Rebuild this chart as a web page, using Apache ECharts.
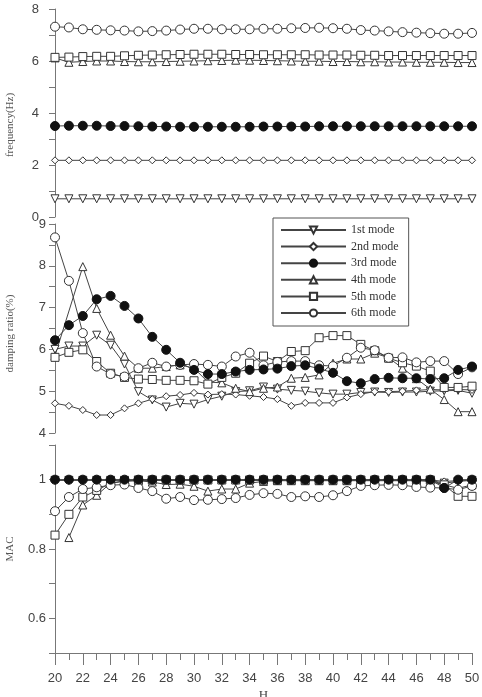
<!DOCTYPE html>
<html>
<head>
<meta charset="utf-8">
<script src="https://cdn.jsdelivr.net/npm/echarts@6/dist/echarts.min.js"></script>
<style>
  html, body { margin: 0; padding: 0; background: #fff; }
  #chart { width: 482px; height: 697px; }
</style>
</head>
<body>
<div id="chart"></div>
<script>
// x values (H)
var xs = [20, 21, 22, 23, 24, 25, 26, 27, 28, 29, 30, 31, 32, 33, 34, 35, 36, 37, 38, 39, 40, 41, 42, 43, 44, 45, 46, 47, 48, 49, 50];
var modeNames = ["1st mode", "2nd mode", "3rd mode", "4th mode", "5th mode", "6th mode"];

// frequency (Hz)
var freq1 = [0.7, 0.7, 0.7, 0.7, 0.7, 0.7, 0.7, 0.7, 0.7, 0.7, 0.7, 0.7, 0.7, 0.7, 0.7, 0.7, 0.7, 0.7, 0.7, 0.7, 0.7, 0.7, 0.7, 0.7, 0.7, 0.7, 0.7, 0.7, 0.7, 0.7, 0.7];
var freq2 = [2.18, 2.18, 2.18, 2.18, 2.18, 2.18, 2.18, 2.18, 2.18, 2.18, 2.18, 2.18, 2.18, 2.18, 2.18, 2.18, 2.18, 2.18, 2.18, 2.18, 2.18, 2.18, 2.18, 2.18, 2.18, 2.18, 2.18, 2.18, 2.18, 2.18, 2.18];
var freq3 = [3.5, 3.51, 3.51, 3.51, 3.5, 3.5, 3.49, 3.48, 3.48, 3.47, 3.47, 3.47, 3.47, 3.47, 3.47, 3.48, 3.48, 3.48, 3.48, 3.49, 3.49, 3.49, 3.49, 3.49, 3.49, 3.49, 3.49, 3.49, 3.49, 3.49, 3.49];
var freq4 = [6.12, 5.95, 5.98, 6.0, 6.0, 5.98, 5.97, 5.97, 5.98, 5.99, 6.0, 6.01, 6.02, 6.03, 6.03, 6.02, 6.01, 6.0, 5.99, 5.99, 5.98, 5.98, 5.97, 5.97, 5.96, 5.96, 5.95, 5.95, 5.95, 5.94, 5.94];
var freq5 = [6.14, 6.15, 6.17, 6.18, 6.18, 6.2, 6.22, 6.23, 6.24, 6.25, 6.26, 6.26, 6.26, 6.25, 6.25, 6.24, 6.24, 6.24, 6.24, 6.23, 6.23, 6.23, 6.22, 6.22, 6.21, 6.21, 6.21, 6.21, 6.21, 6.21, 6.21];
var freq6 = [7.32, 7.29, 7.22, 7.2, 7.18, 7.17, 7.14, 7.15, 7.17, 7.21, 7.24, 7.24, 7.22, 7.22, 7.22, 7.24, 7.24, 7.26, 7.27, 7.28, 7.26, 7.24, 7.19, 7.17, 7.14, 7.11, 7.09, 7.07, 7.05, 7.05, 7.08];

// damping ratio (%)
var damp1 = [6.0, 6.08, 6.08, 6.34, 6.1, 5.65, 4.99, 4.79, 4.62, 4.71, 4.69, 4.8, 4.88, 4.99, 5.01, 5.1, 5.05, 5.02, 5.0, 4.96, 4.93, 4.93, 4.97, 4.98, 4.97, 4.98, 4.98, 5.0, 5.01, 5.02, 4.95];
var damp2 = [4.71, 4.65, 4.55, 4.43, 4.43, 4.59, 4.71, 4.81, 4.88, 4.91, 4.96, 4.92, 4.93, 4.92, 4.89, 4.86, 4.81, 4.65, 4.72, 4.72, 4.72, 4.85, 4.93, 4.99, 4.99, 5.0, 5.02, 5.04, 5.03, 5.04, 5.03];
var damp3 = [6.22, 6.58, 6.8, 7.2, 7.28, 7.04, 6.74, 6.3, 5.99, 5.68, 5.51, 5.41, 5.41, 5.47, 5.51, 5.52, 5.54, 5.6, 5.62, 5.54, 5.44, 5.24, 5.19, 5.29, 5.32, 5.31, 5.31, 5.29, 5.31, 5.51, 5.59];
var damp4 = [5.85, null, 7.98, 6.98, 6.34, 5.84, 5.55, 5.55, 5.59, 5.63, 5.55, 5.22, 5.2, 5.07, 4.99, 5.07, 5.1, 5.31, 5.33, 5.39, 5.67, 5.77, 5.77, 5.91, 5.8, 5.55, 5.3, 5.05, 4.8, 4.51, 4.51];
var damp5 = [5.81, 5.93, 5.99, 5.71, 5.43, 5.33, 5.29, 5.28, 5.26, 5.26, 5.25, 5.17, 5.33, 5.43, 5.67, 5.84, 5.71, 5.95, 5.97, 6.28, 6.33, 6.33, 6.12, 5.97, 5.79, 5.68, 5.6, 5.48, 5.09, 5.09, 5.12];
var damp6 = [8.68, 7.64, 6.39, 5.59, 5.41, 5.35, 5.55, 5.68, 5.59, 5.63, 5.65, 5.63, 5.59, 5.83, 5.92, 5.62, 5.7, 5.72, 5.72, 5.62, 5.6, 5.8, 6.04, 5.98, 5.8, 5.81, 5.69, 5.72, 5.72, 5.41, 5.57];

// MAC
var mac1 = [0.998, 0.998, 0.998, 0.998, 0.998, 0.998, 0.998, 0.998, 0.998, 0.998, 0.998, 0.998, 0.998, 0.998, 0.998, 0.998, 0.998, 0.998, 0.998, 0.998, 0.998, 0.998, 0.998, 0.998, 0.998, 0.998, 0.998, 0.998, 0.99, 0.995, 0.998];
var mac2 = [0.999, 0.999, 0.999, 0.999, 0.999, 0.999, 0.999, 0.999, 0.999, 0.999, 0.999, 0.999, 0.999, 0.999, 0.999, 0.999, 0.999, 0.999, 0.999, 0.999, 0.999, 0.999, 0.999, 0.999, 0.999, 0.999, 0.999, 0.999, 0.995, 0.997, 0.999];
var mac3 = [1.0, 1.0, 1.0, 1.0, 1.0, 1.0, 1.0, 1.0, 1.0, 1.0, 1.0, 1.0, 1.0, 1.0, 1.0, 1.0, 1.0, 1.0, 1.0, 1.0, 1.0, 1.0, 1.0, 1.0, 1.0, 1.0, 1.0, 1.0, 0.976, 1.0, 1.0];
var mac4 = [null, 0.833, 0.927, 0.955, 0.99, 0.995, 0.997, 0.993, 0.986, 0.987, 0.981, 0.967, 0.973, 0.973, 0.99, 0.995, 0.997, 0.997, 0.997, 0.997, 0.997, 0.997, 0.997, 0.997, 0.997, 0.997, 0.997, 0.995, 0.985, 0.975, 0.985];
var mac5 = [0.84, 0.9, 0.95, 0.969, 0.99, 0.997, 0.999, 0.999, 0.999, 0.999, 0.999, 0.999, 0.999, 0.999, 0.999, 0.999, 0.999, 0.999, 0.999, 0.999, 0.999, 0.999, 0.999, 0.999, 0.999, 0.999, 0.999, 0.999, 0.985, 0.952, 0.952];
var mac6 = [0.909, 0.95, 0.973, 0.978, 0.984, 0.986, 0.976, 0.967, 0.945, 0.95, 0.941, 0.942, 0.944, 0.947, 0.956, 0.961, 0.959, 0.95, 0.952, 0.95, 0.955, 0.967, 0.982, 0.984, 0.985, 0.984, 0.979, 0.977, 0.976, 0.971, 0.982];

var freqData = [freq1, freq2, freq3, freq4, freq5, freq6];
var dampData = [damp1, damp2, damp3, damp4, damp5, damp6];
var macData = [mac1, mac2, mac3, mac4, mac5, mac6];

// marker look of every mode
var markers = [
  { symbol: "triangle", size: 8, rotate: 180, fill: "#fff" },
  { symbol: "diamond", size: 7, rotate: 0, fill: "#fff" },
  { symbol: "circle", size: 9, rotate: 0, fill: "#111" },
  { symbol: "triangle", size: 8, rotate: 0, fill: "#fff" },
  { symbol: "rect", size: 8, rotate: 0, fill: "#fff" },
  { symbol: "circle", size: 9, rotate: 0, fill: "#fff" },
];

function pairs(vals) {
  return xs.map(function (x, i) {
    return [x, vals[i] == null ? "-" : vals[i]];
  });
}

var series = [];
[freqData, dampData, macData].forEach(function (panel, p) {
  panel.forEach(function (vals, k) {
    var m = markers[k];
    series.push({
      name: modeNames[k],
      type: "line",
      xAxisIndex: p,
      yAxisIndex: p,
      data: pairs(vals),
      connectNulls: true,
      symbol: m.symbol,
      symbolSize: m.size,
      symbolRotate: m.rotate,
      showAllSymbol: true,
      z: k == 2 ? 4 : 3,
      lineStyle: { color: "#444", width: 1 },
      itemStyle: {
        color: m.fill,
        borderColor: k == 2 ? "#111" : "#333",
        borderWidth: 1,
        opacity: 1,
      },
      emphasis: { disabled: true },
    });
  });
});

var axisColor = "#777";
var serif = "'Liberation Serif', 'DejaVu Serif', serif";
var sans = "'Liberation Sans', Arial, sans-serif";

function xAxisFor(idx, show) {
  return {
    type: "value",
    gridIndex: idx,
    min: 20,
    max: 50,
    interval: 2,
    show: show,
    name: show ? "H" : "",
    nameLocation: "middle",
    nameGap: 36,
    nameTextStyle: { fontFamily: serif, fontSize: 13, color: "#444" },
    axisLine: { show: true, onZero: false, lineStyle: { color: axisColor } },
    axisTick: { show: true, length: 12, lineStyle: { color: axisColor } },
    minorTick: { show: true, splitNumber: 2, length: 7, lineStyle: { color: axisColor } },
    axisLabel: { fontFamily: sans, fontSize: 13, color: "#444", margin: 19 },
    splitLine: { show: false },
  };
}

function yAxisFor(idx, opts) {
  return {
    type: "value",
    gridIndex: idx,
    min: opts.min,
    max: opts.max,
    interval: opts.interval,
    name: opts.name,
    nameLocation: "middle",
    nameGap: 39,
    nameTextStyle: { fontFamily: serif, fontSize: 11, color: "#555", padding: opts.namePad },
    axisLine: { show: true, onZero: false, lineStyle: { color: axisColor } },
    axisTick: { show: true, length: 6, lineStyle: { color: axisColor } },
    minorTick: {
      show: opts.minor,
      splitNumber: 2,
      length: 6,
      lineStyle: { color: axisColor },
    },
    axisLabel: {
      fontFamily: sans,
      fontSize: 13,
      color: "#444",
      margin: opts.margin,
      formatter: opts.formatter,
    },
    splitLine: { show: false },
  };
}

var chart = echarts.init(document.getElementById("chart"), null, { renderer: "canvas" });
var option = {
  animation: false,
  backgroundColor: "#fff",
  grid: [
    { left: 55, width: 417, top: 9, height: 208, outerBoundsMode: "none" },
    { left: 55, width: 417, top: 224, height: 209, outerBoundsMode: "none" },
    { left: 55, width: 417, top: 445, height: 208, outerBoundsMode: "none" },
  ],
  xAxis: [xAxisFor(0, false), xAxisFor(1, false), xAxisFor(2, true)],
  yAxis: [
    yAxisFor(0, { min: 0, max: 8, interval: 2, minor: true, name: "frequency(Hz)", margin: 16, namePad: [0, 24, 0, 0] }),
    yAxisFor(1, { min: 4, max: 9, interval: 1, minor: true, name: "damping ratio(%)", margin: 9, namePad: [0, 10, 0, 0] }),
    yAxisFor(2, {
      min: 0.5,
      max: 1.1,
      interval: 0.1,
      minor: false,
      name: "MAC",
      margin: 9,
      namePad: 0,
      formatter: function (v) {
        var t = Math.round(v * 10);
        return t % 2 == 0 ? String(t / 10) : "";
      },
    }),
  ],
  legend: {
    data: modeNames,
    orient: "vertical",
    left: 273,
    top: 218,
    z: 10,
    padding: [6, 10, 7, 7],
    itemWidth: 65,
    itemHeight: 9,
    itemGap: 4.6,
    borderColor: "#555",
    borderWidth: 1,
    backgroundColor: "#fff",
    selectedMode: false,
    textStyle: { fontFamily: serif, fontSize: 12, lineHeight: 12, color: "#333" },
  },
  series: series,
};
chart.setOption(option);
</script>
</body>
</html>
